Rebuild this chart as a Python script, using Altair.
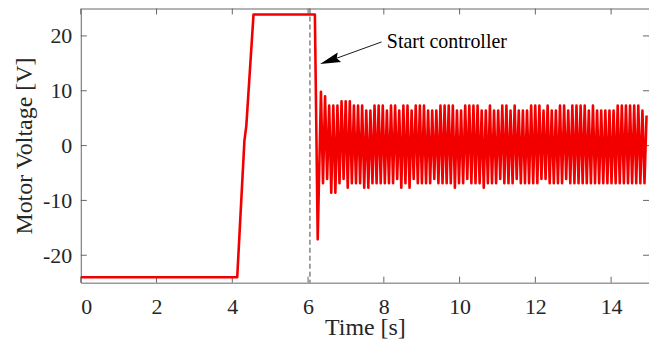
import altair as alt
import pandas as pd

# ---------------- data ----------------
# open-loop part: (time [s], voltage [V])
pre_t = [0.0, 4.13, 4.32, 4.37, 4.56, 6.18, 6.255]
pre_v = [-24.0, -24.0, 0.9, 3.6, 23.9, 23.9, -17.1]

# controller running: successive oscillation peaks and troughs
osc_start = 6.34      # time of first peak [s]
osc_period = 0.1088   # oscillation period [s]
peaks = [
    9.8, 9.0, 7.3, 7.3, 7.3, 8.1, 8.1, 8.1, 7.3, 7.3,
    7.3, 6.4, 6.4, 7.3, 7.3, 7.3, 6.4, 7.3, 7.3, 6.4, 7.3, 7.3, 6.4, 7.3,
    7.3, 7.3, 6.4, 6.4, 6.4, 7.3, 7.3, 7.3, 7.3, 6.4, 6.4, 7.3, 7.3, 7.3,
    7.3, 6.4, 6.4, 7.3, 6.4, 6.4, 7.3, 7.3, 6.4, 7.3, 6.4, 6.4, 6.4, 7.3,
    7.3, 7.3, 6.4, 7.3, 6.4, 6.4, 7.3, 7.3, 6.4, 7.3, 7.3, 7.3, 7.3, 6.4,
    7.3, 6.4, 6.4, 6.4, 6.4, 6.4, 7.3, 7.3, 7.3, 7.3, 7.3, 7.3, 6.4, 5.5,
]
troughs = [
    -6.85, -6.1, -8.6, -8.6, -6.85, -6.1, -7.7, -6.85, -6.85, -6.85,
    -7.7, -7.7, -6.85, -6.85, -6.85, -6.85, -6.85, -6.85, -6.1, -7.7, -6.85, -7.7, -6.1, -6.85,
    -6.85, -6.85, -6.85, -6.1, -6.85, -6.85, -6.85, -6.85, -7.7, -6.85, -6.85, -6.1, -6.85, -6.85,
    -6.85, -7.7, -6.85, -6.85, -6.85, -6.1, -6.85, -6.85, -6.85, -6.1, -6.85, -6.85, -6.85, -6.85,
    -6.85, -6.1, -6.1, -6.85, -6.85, -6.85, -6.85, -6.1, -6.85, -6.85, -6.85, -6.85, -6.85, -6.85,
    -6.85, -6.85, -6.85, -6.85, -6.85, -6.85, -6.85, -6.85, -6.85, -6.85, -6.85, -6.85, -6.85,
]

start_time = [6.05]

# annotation
note_text = ["Start controller"]
note_t = [8.08]
note_v = [18.9]
arrow_tail_t = [7.94]
arrow_tail_v = [18.9]
arrow_head_t = [6.60]
arrow_head_v = [15.55]

x_ticks = [0, 2, 4, 6, 8, 10, 12, 14]
y_ticks = [-20, -10, 0, 10, 20]

# ---------------- build tables ----------------
ts = list(pre_t)
vs = list(pre_v)
for i, p in enumerate(peaks):
    tp = osc_start + i * osc_period
    ts.append(tp)
    vs.append(p)
    if i < len(troughs):
        ts.append(tp + osc_period / 2)
        vs.append(troughs[i])
signal = pd.DataFrame({"t": ts, "v": vs})

W, H = 570, 275
FONT = "Liberation Serif"
AX = "#666666"
TXT = "#262626"

xscale = alt.Scale(domain=[0, 15], nice=False, zero=False)
yscale = alt.Scale(domain=[-25, 25], nice=False, zero=False)

xaxis = alt.Axis(values=x_ticks, ticks=False, domain=False, grid=False,
                 labelFont=FONT, labelFontSize=22, labelColor=TXT, labelPadding=14,
                 title="Time [s]", titleFont=FONT, titleFontSize=24, titleFontWeight="normal",
                 titleColor=TXT, titleY=52, titleBaseline="alphabetic")
yaxis = alt.Axis(values=y_ticks, ticks=False, domain=False, grid=False,
                 labelFont=FONT, labelFontSize=22, labelColor=TXT, labelPadding=9,
                 labelExpr="'' + datum.value",
                 title="Motor Voltage [V]", titleFont=FONT, titleFontSize=24,
                 titleFontWeight="normal", titleColor=TXT, titlePadding=6)


def X(field):
    return alt.X(field, type="quantitative", scale=xscale, axis=xaxis)


def Y(field):
    return alt.Y(field, type="quantitative", scale=yscale, axis=yaxis)


line = alt.Chart(signal).mark_line(color="#f20000", strokeWidth=2.6, clip=True,
                                   strokeJoin="round").encode(x=X("t"), y=Y("v"))

dash = alt.Chart(pd.DataFrame({"t": start_time})).mark_rule(
    color="#444444", strokeWidth=1, strokeDash=[5, 3]).encode(x=X("t"))

arrow_df = pd.DataFrame({"t": arrow_tail_t, "v": arrow_tail_v,
                         "t2": arrow_head_t, "v2": arrow_head_v})
arrow_line = alt.Chart(arrow_df).mark_rule(color="#1a1a1a", strokeWidth=1).encode(
    x=X("t"), y=Y("v"), x2="t2", y2="v2")

head = alt.Chart(pd.DataFrame({"t": arrow_head_t, "v": arrow_head_v})).mark_point(
    shape="M0,-1L0.45,0.8L0,0.55L-0.45,0.8Z", filled=True, color="#000000",
    opacity=1, size=520, angle=250.5, strokeWidth=0).encode(x=X("t"), y=Y("v"))

note = alt.Chart(pd.DataFrame({"t": note_t, "v": note_v, "s": note_text})).mark_text(
    font=FONT, fontSize=20, color="#000000", align="left", baseline="middle").encode(
    x=X("t"), y=Y("v"), text="s")

xt = pd.DataFrame({"t": x_ticks})
yt = pd.DataFrame({"v": y_ticks})
tick_bottom = alt.Chart(xt).mark_rule(color=AX, strokeWidth=1).encode(
    x=X("t"), y=alt.value(H), y2=alt.value(H - 6))
tick_top = alt.Chart(xt).mark_rule(color=AX, strokeWidth=1).encode(
    x=X("t"), y=alt.value(0), y2=alt.value(6))
tick_left = alt.Chart(yt).mark_rule(color=AX, strokeWidth=1).encode(
    y=Y("v"), x=alt.value(0), x2=alt.value(6))
tick_right = alt.Chart(yt).mark_rule(color=AX, strokeWidth=1).encode(
    y=Y("v"), x=alt.value(W), x2=alt.value(W - 6))

chart = alt.layer(
    tick_bottom, tick_top, tick_left, tick_right, dash, line, arrow_line, head, note
).properties(
    width=W, height=H,
    autosize=alt.AutoSizeParams(type="none"),
    padding={"left": 73, "top": 0, "right": 0, "bottom": 57},
    background="white",
).configure_view(stroke=AX, strokeWidth=1)

chart.save("out.html", embed_options={"renderer": "svg", "actions": False})
